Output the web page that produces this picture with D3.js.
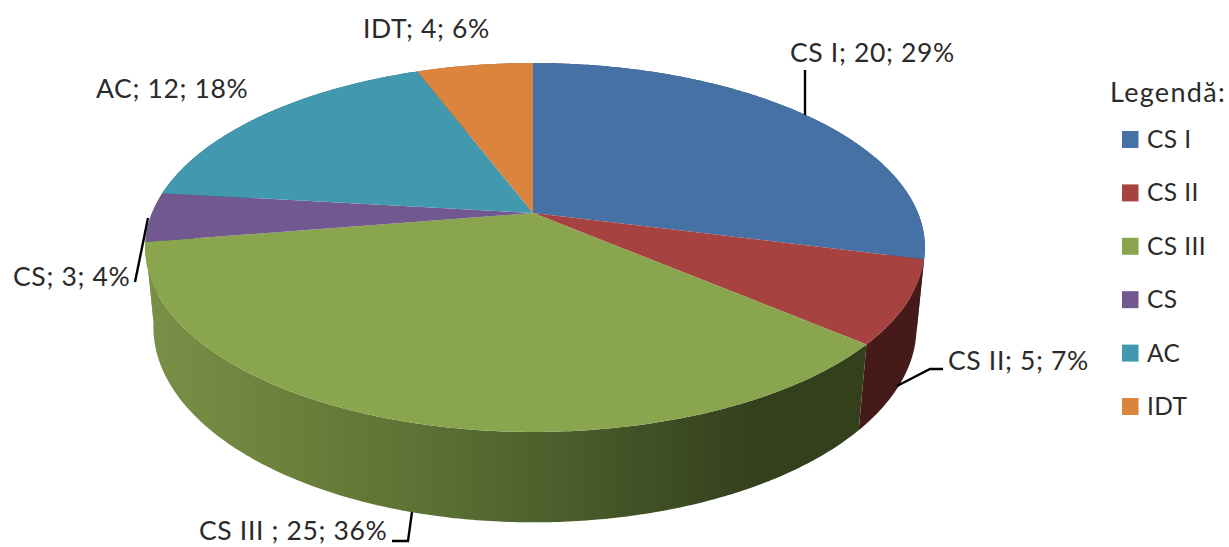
<!DOCTYPE html>
<html><head><meta charset="utf-8">
<script src="https://cdn.jsdelivr.net/npm/d3@7"></script>
<style>html,body{margin:0;padding:0;background:#fff;overflow:hidden}svg{display:block}text{font-family:Lato,"Open Sans",sans-serif;fill:#2a2a2a}
.lab{font-size:26.5px;letter-spacing:.65px}.leg{font-size:24.5px;letter-spacing:.4px}.ttl{font-size:27px;letter-spacing:1.3px}</style>
</head><body><svg id="c" width="1229" height="547"></svg>
<script>
const categories = ["CS I","CS II","CS III","CS","AC","IDT"];
const labelNames = ["CS I","CS II","CS III ","CS","AC","IDT"];
const values = [20,5,25,3,12,4];
const percents = [29,7,36,4,18,6];
const colors = ["#4671a5","#a64340","#89a54e","#71588f","#4198af","#db843d"];
const wallColors = ["#2f4a6e","#451a18","#5a6e33","#5a6e33","#2b6475","#915727"];
const legendTitle = "Legendă:";

const svg = d3.select("#c");
const cx=533, cy=213, bR=385, bL=381, a=178, k=-0.187, m=0.021, D=80;
function proj(t,h){
  const u=Math.sin(t), v=-Math.cos(t), w=1+k*v+m*h;
  return [cx+(u>0?bR:bL)*u/w, cy+(a*v+D*h)/w];
}
const arcs = d3.pie().sort(null).startAngle(0).endAngle(2*Math.PI)(values);
function samples(s,e){const n=Math.max(2,Math.ceil((e-s)/0.01));return d3.range(n+1).map(i=>s+(e-s)*i/n);}
const line=d3.line();

const defs=svg.append("defs");
const g=defs.append("linearGradient").attr("id","wallGreen").attr("gradientUnits","userSpaceOnUse")
  .attr("x1",145).attr("x2",860).attr("y1",0).attr("y2",0);
[[0,"#7a9047"],[0.22,"#6a7f3a"],[0.47,"#556a31"],[0.72,"#3f4e24"],[0.86,"#343f1c"],[1,"#343f1c"]]
  .forEach(d=>g.append("stop").attr("offset",d[0]).attr("stop-color",d[1]));

// side walls (the narrow CS slice sits behind the silhouette and shares the green shading)
svg.append("g").selectAll("path").data(arcs).join("path")
  .attr("d",d=>{
    const ts=samples(d.startAngle,d.endAngle);
    return line(ts.map(t=>proj(t,0)).concat(ts.slice().reverse().map(t=>proj(t,1))))+"Z";
  })
  .attr("fill",(d,i)=>(i===2||i===3)?"url(#wallGreen)":wallColors[i]);
svg.append("g").selectAll("path").data(arcs).join("path")
  .attr("d",d=>{
    const ts=samples(d.startAngle,d.endAngle);
    return line([[cx,cy]].concat(ts.map(t=>proj(t,0))))+"Z";
  })
  .attr("fill",(d,i)=>colors[i]);

const leaders=[
 [[805,70],[805,115]],
 [[897,386],[930,369],[943,369]],
 [[412,512],[408,541],[392,541]],
 [[148,218],[135,282]]
];
svg.append("g").selectAll("path").data(leaders).join("path")
  .attr("d",d=>line(d)).attr("fill","none").attr("stroke","#000").attr("stroke-width",2.4);

const labelPos=[[790,62],[948,370],[199,540],[13,286],[96,98],[363,38]];
svg.append("g").selectAll("text").data(values).join("text").attr("class","lab")
  .attr("x",(d,i)=>labelPos[i][0]).attr("y",(d,i)=>labelPos[i][1])
  .text((d,i)=>`${labelNames[i]}; ${d}; ${percents[i]}%`);

svg.append("text").attr("class","ttl").attr("x",1110).attr("y",102).text(legendTitle);
const ly=d3.scalePoint().domain(categories).range([139,406]);
const lg=svg.append("g").selectAll("g").data(categories).join("g");
lg.append("rect").attr("x",1122).attr("y",d=>ly(d)-8).attr("width",16.5).attr("height",17)
  .attr("fill",(d,i)=>colors[i]);
lg.append("text").attr("class","leg").attr("x",1147).attr("y",d=>ly(d)+9).text(d=>d);
</script></body></html>
